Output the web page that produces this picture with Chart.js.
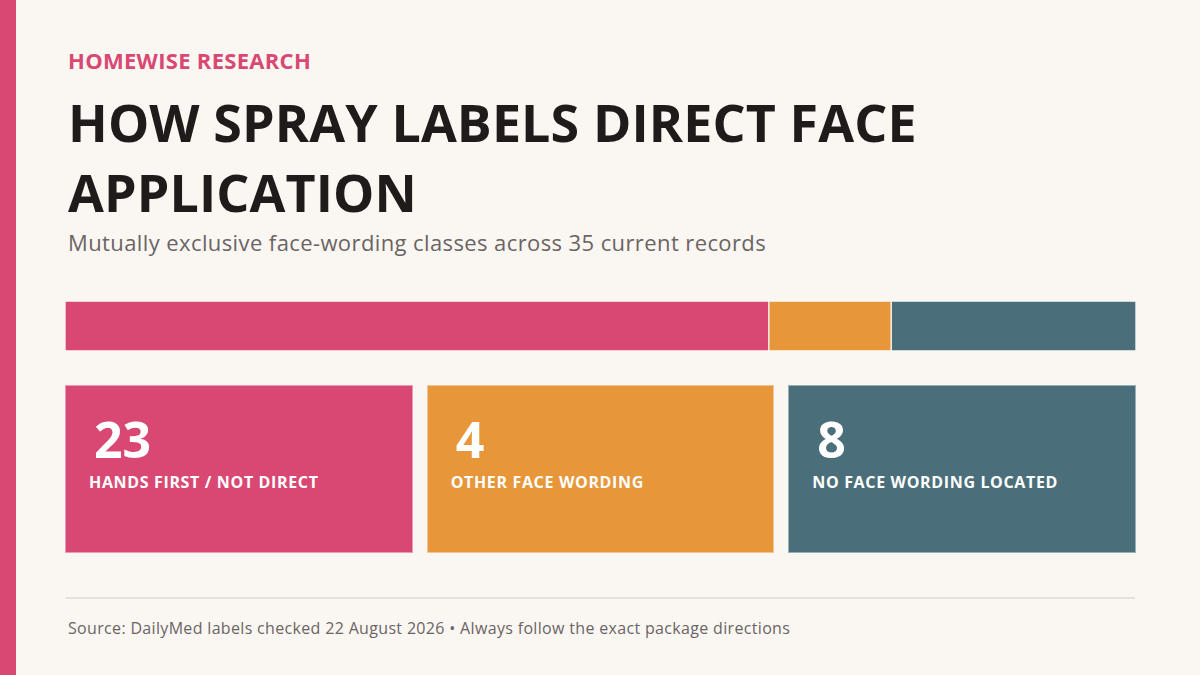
<!DOCTYPE html>
<html>
<head>
<meta charset="utf-8">
<script src="https://cdn.jsdelivr.net/npm/chart.js@4.4.1/dist/chart.umd.min.js"></script>
<style>
  html, body { margin: 0; padding: 0; }
  body { width: 1200px; height: 675px; background: #faf7f3; position: relative; overflow: hidden; font-family: "Open Sans", "Noto Sans", sans-serif; }
  #accent { position: absolute; left: 0; top: 0; width: 16px; height: 675px; background: #d94873; }
  #kicker { position: absolute; left: 68px; top: 45px; font-size: 22px; font-weight: 700; color: #d94873; letter-spacing: 0.3px; }
  #title { position: absolute; left: 68px; top: 87px; font-size: 52px; line-height: 70px; font-weight: 700; color: #1f1b1b; letter-spacing: 0.1px; }
  #subtitle { position: absolute; left: 68px; top: 227px; font-size: 22px; color: #6b6464; letter-spacing: 0.4px; }
  #barWrap { position: absolute; left: 65px; top: 301px; width: 1071px; height: 50px; }
  #cards { position: absolute; left: 65px; top: 385px; width: 1071px; height: 168px; display: flex; gap: 14px; }
  .card { flex: 1; position: relative; color: #fff; border: 1px solid rgba(255,255,255,0.45); }
  .card .num { position: absolute; left: 28px; top: 23px; font-size: 50px; line-height: 60px; font-weight: 700; }
  .card .lab { position: absolute; left: 23px; top: 85px; font-size: 16px; font-weight: 700; letter-spacing: 0.65px; }
  #rule { position: absolute; left: 66px; top: 597px; width: 1069px; height: 2px; background: #e6e0dc; }
  #source { position: absolute; left: 68px; top: 617px; font-size: 16px; color: #6b6464; letter-spacing: 0.33px; }
</style>
</head>
<body>
<div id="accent"></div>
<div id="kicker">HOMEWISE RESEARCH</div>
<div id="title">HOW SPRAY LABELS DIRECT FACE<br>APPLICATION</div>
<div id="subtitle">Mutually exclusive face-wording classes across 35 current records</div>
<div id="barWrap"><canvas id="shareBar"></canvas></div>
<div id="cards"></div>
<div id="rule"></div>
<div id="source">Source: DailyMed labels checked 22 August 2026 • Always follow the exact package directions</div>
<script>
var classNames = ["HANDS FIRST / NOT DIRECT", "OTHER FACE WORDING", "NO FACE WORDING LOCATED"];
var recordCounts = [23, 4, 8];
var classColors = ["#d94873", "#e8963a", "#4a6f7a"];
var totalRecords = 35;

// cards under the bar
classNames.forEach(function (name, i) {
    var card = document.createElement("div");
    card.className = "card";
    card.style.background = classColors[i];
    card.innerHTML = `<div class="num">${recordCounts[i]}</div><div class="lab">${name}</div>`;
    document.getElementById("cards").appendChild(card);
})

var datasets = classNames.map(function (name, i) {
    return {
        label: name,
        data: [recordCounts[i]],
        backgroundColor: classColors[i],
        borderColor: "rgba(255,255,255,0.45)",
        borderWidth: 1,
        borderSkipped: false,
        barPercentage: 1,
        categoryPercentage: 1,
    }
})

new Chart(document.getElementById("shareBar").getContext("2d"), {
    type: "bar",
    data: { labels: ["records"], datasets: datasets },
    options: {
        indexAxis: "y",
        responsive: true,
        maintainAspectRatio: false,
        animation: false,
        layout: { padding: 0 },
        plugins: { legend: { display: false }, tooltip: { enabled: false } },
        scales: {
            x: { stacked: true, min: 0, max: totalRecords, display: false },
            y: { stacked: true, display: false },
        },
    },
})
</script>
</body>
</html>
